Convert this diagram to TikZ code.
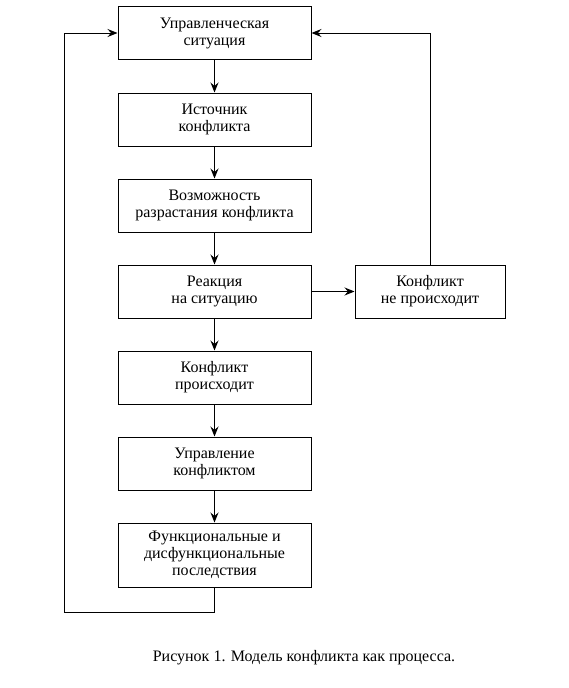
\documentclass[tikz,border=0pt]{standalone}
\usepackage{fontspec}
\setmainfont{Liberation Serif}
\usetikzlibrary{arrows.meta}
\begin{document}
\begin{tikzpicture}[x=1pt,y=-1pt,
  box/.style={draw,line width=1pt,minimum width=193pt,minimum height=53pt,align=center,font=\fontsize{16}{17}\selectfont,inner sep=0pt},
  conn/.style={line width=1pt,-{Stealth[length=10pt,width=8pt,inset=3.5pt]}},
  plain/.style={line width=1pt}]
\useasboundingbox (0,0) rectangle (568,688);
\node[box] (b1) at (214.5,33) {Управленческая\\ситуация};
\node[box] (b2) at (214.5,119.5) {Источник\\конфликта};
\node[box] (b3) at (214.5,205.5) {Возможность\\разрастания конфликта};
\node[box] (b4) at (214.5,291.5) {Реакция\\на ситуацию};
\node[box] (b5) at (214.5,377.5) {Конфликт\\происходит};
\node[box] (b6) at (214.5,463.5) {Управление\\конфликтом};
\node[box,minimum height=64pt] (b7) at (214.5,555) {Функциональные и\\дисфункциональные\\последствия};
\node[box,minimum width=150pt] (r) at (430,291.5) {Конфликт\\не происходит};
\node[font=\fontsize{16}{17}\selectfont] (cap) at (304,658) {Рисунок 1. Модель конфликта как процесса.};
\draw[conn] (b1) -- (b2);
\draw[conn] (b2) -- (b3);
\draw[conn] (b3) -- (b4);
\draw[conn] (b4) -- (b5);
\draw[conn] (b5) -- (b6);
\draw[conn] (b6) -- (b7);
\draw[conn] (b4) -- (r);
\coordinate (lb) at (64,612);
\coordinate (lt) at (64,33);
\coordinate (rt) at (430,33);
\draw[conn] (b7.south) |- (lb) -- (lt) -- (b1.west);
\draw[conn] (r.north) -- (rt) -- (b1.east);
\end{tikzpicture}
\end{document}
